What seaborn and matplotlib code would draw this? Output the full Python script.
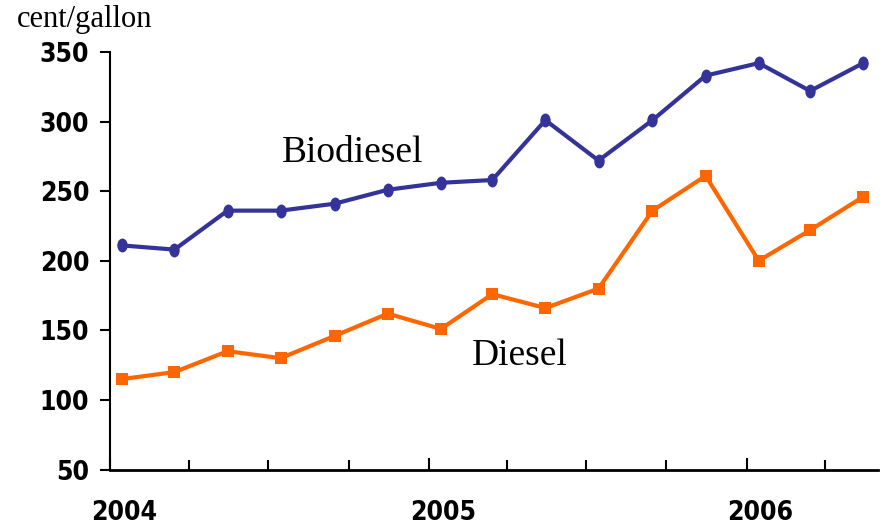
import matplotlib
matplotlib.use("Agg")
import numpy as np
import pandas as pd
import matplotlib.pyplot as plt
import matplotlib.dates as mdates
import seaborn as sns
from matplotlib.path import Path
from matplotlib.transforms import Affine2D, ScaledTranslation

# bi-monthly price samples, cent/gallon
dates = ["2004-01-15", "2004-03-15", "2004-05-15", "2004-07-15", "2004-09-15",
         "2004-11-15", "2005-01-15", "2005-03-15", "2005-05-15", "2005-07-15",
         "2005-09-15", "2005-11-15", "2006-01-15", "2006-03-15", "2006-05-15"]
biodiesel = [211, 208, 236, 236, 241, 251, 256, 258, 301, 272, 301, 333, 342, 322, 342]
diesel = [115, 120, 135, 130, 146, 162, 151, 176, 166, 180, 236, 261, 200, 222, 246]

df = pd.DataFrame({"date": pd.to_datetime(dates), "Biodiesel": biodiesel, "Diesel": diesel})

sns.set_style("white")
plt.rcParams["font.family"] = ["Liberation Serif", "DejaVu Serif"]
plt.rcParams["text.color"] = "black"

fig = plt.figure(figsize=(8.82, 5.25), dpi=100)
ax = fig.add_axes([0.1247, 0.1057, 0.8708, 0.7953])

# tall oval marker like the original
oval = Affine2D().scale(0.75, 1.0).transform_path(Path.unit_circle())

sns.lineplot(data=df, x="date", y="Biodiesel", ax=ax, color="#333399", linewidth=3,
             marker=oval, markersize=10, markeredgewidth=0)
sns.lineplot(data=df, x="date", y="Diesel", ax=ax, color="#FF6600", linewidth=3,
             marker="s", markersize=8.5, markeredgewidth=0)

ax.set_xlim(pd.Timestamp("2004-01-01"), pd.Timestamp("2006-06-01"))
ax.set_ylim(50, 350)
ax.set_yticks([50, 100, 150, 200, 250, 300, 350])
ax.set_xlabel("")
ax.set_ylabel("")

ax.xaxis.set_major_locator(mdates.YearLocator())
ax.xaxis.set_major_formatter(mdates.DateFormatter("%Y"))
ax.xaxis.set_minor_locator(mdates.MonthLocator(bymonth=[4, 7, 10]))

for s in ["top", "right"]:
    ax.spines[s].set_visible(False)
ax.spines["left"].set_linewidth(1.5)
ax.spines["bottom"].set_linewidth(2)
ax.spines["left"].set_color("black")
ax.spines["bottom"].set_color("black")

ax.tick_params(axis="y", left=True, direction="out", length=7, width=1.5, pad=8,
               color="black", labelcolor="black")
ax.tick_params(axis="x", which="major", bottom=True, direction="in", length=9, width=1.5,
               pad=22, color="black", labelcolor="black")
ax.tick_params(axis="x", which="minor", bottom=True, direction="in", length=7, width=1.5,
               color="black")
for lbl in ax.get_yticklabels() + ax.get_xticklabels():
    lbl.set_family("DejaVu Sans")
    lbl.set_stretch("condensed")
    lbl.set_fontsize(19)
    lbl.set_fontweight("bold")
shift = ScaledTranslation(0.14, 0, fig.dpi_scale_trans)
for lbl in ax.get_xticklabels():
    lbl.set_transform(lbl.get_transform() + shift)

fig.text(17 / 882, 1 - 27 / 525, "cent/gallon", fontsize=22, ha="left", va="baseline")
fig.text(282 / 882, 1 - 162 / 525, "Biodiesel", fontsize=27, ha="left", va="baseline")
fig.text(472 / 882, 1 - 365 / 525, "Diesel", fontsize=27, ha="left", va="baseline")

fig.savefig("out.png", dpi=100)
